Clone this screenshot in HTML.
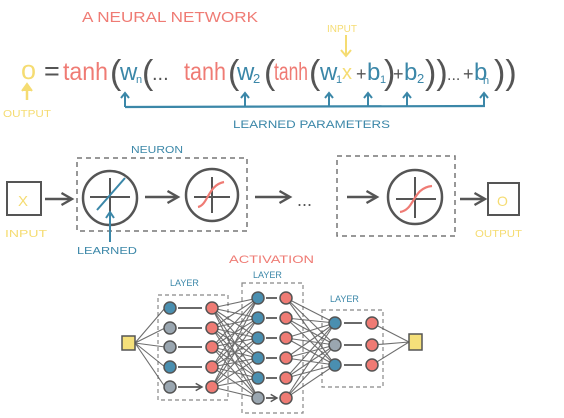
<!DOCTYPE html>
<html><head><meta charset="utf-8"><style>
html,body{margin:0;padding:0;background:#fff;width:564px;height:418px;overflow:hidden}
svg{display:block}
text{font-family:"Liberation Sans",sans-serif}
</style></head><body>
<svg width="564" height="418" viewBox="0 0 564 418" xmlns="http://www.w3.org/2000/svg">
<defs>
<marker id="ah" viewBox="0 0 10 10" refX="8" refY="5" markerWidth="6" markerHeight="6" orient="auto"><path d="M1,1 L8,5 L1,9" fill="none" stroke="#555" stroke-width="1.6"/></marker>
<marker id="ahs" viewBox="0 0 10 10" refX="8" refY="5" markerWidth="5" markerHeight="5" orient="auto"><path d="M1,1 L8,5 L1,9" fill="none" stroke="#555" stroke-width="1.6"/></marker>
</defs>
<!-- title -->
<text x="82" y="22" font-size="15" fill="#ef7b74" textLength="176" lengthAdjust="spacingAndGlyphs">A NEURAL NETWORK</text>
<!-- input label -->
<text x="327" y="32" font-size="10" fill="#f5dc72">INPUT</text>
<line x1="346" y1="35" x2="346" y2="55" stroke="#f5dc72" stroke-width="2"/>
<path d="M341,50 L346,56 L351,50" fill="none" stroke="#f5dc72" stroke-width="2"/>
<!-- equation -->
<g font-size="27">
<text x="21" y="79" fill="#f5dc72">o</text>
<text x="44" y="80" fill="#555">=</text>
<text x="63" y="80" fill="#ef7b74" font-size="25" textLength="45" lengthAdjust="spacingAndGlyphs">tanh</text>
<text x="110" y="84" fill="#555" font-size="34">(</text>
<text x="120" y="80" fill="#3b87a8" font-size="24">w</text><text x="136" y="83" fill="#3b87a8" font-size="11">n</text>
<text x="142" y="84" fill="#555" font-size="34">(</text>
<text x="152" y="80" fill="#555" font-size="20">...</text>
<text x="184" y="80" fill="#ef7b74" font-size="25" textLength="42" lengthAdjust="spacingAndGlyphs">tanh</text>
<text x="228" y="84" fill="#555" font-size="34">(</text>
<text x="237" y="80" fill="#3b87a8" font-size="24">w</text><text x="253" y="83" fill="#3b87a8" font-size="13">2</text>
<text x="264" y="84" fill="#555" font-size="34">(</text>
<text x="274" y="80" fill="#ef7b74" font-size="25" textLength="34" lengthAdjust="spacingAndGlyphs">tanh</text>
<text x="309" y="84" fill="#555" font-size="34">(</text>
<text x="320" y="80" fill="#3b87a8" font-size="24">w</text><text x="336" y="83" fill="#3b87a8" font-size="11">1</text>
<text x="342" y="79" fill="#f5dc72" font-size="20">x</text>
<text x="356" y="80" fill="#555" font-size="18">+</text>
<text x="367" y="80" fill="#3b87a8" font-size="24">b</text><text x="380" y="83" fill="#3b87a8" font-size="11">1</text>
<text x="384" y="84" fill="#555" font-size="34">)</text>
<text x="393" y="80" fill="#555" font-size="18">+</text>
<text x="404" y="80" fill="#3b87a8" font-size="24">b</text><text x="417" y="83" fill="#3b87a8" font-size="13">2</text>
<text x="425" y="84" fill="#555" font-size="34">))</text>
<text x="447" y="80" fill="#555" font-size="16">...</text>
<text x="463" y="80" fill="#555" font-size="18">+</text>
<text x="474" y="80" fill="#3b87a8" font-size="24">b</text><text x="483" y="84" fill="#3b87a8" font-size="11">n</text>
<text x="494" y="84" fill="#555" font-size="34">))</text>
</g>
<!-- output arrow -->
<line x1="27" y1="100" x2="27" y2="85" stroke="#f5dc72" stroke-width="2.5"/>
<path d="M22,91 L27,84 L32,91" fill="#f5dc72" stroke="#f5dc72" stroke-width="2"/>
<text x="3" y="117" font-size="10" fill="#f5dc72" textLength="48" lengthAdjust="spacingAndGlyphs">OUTPUT</text>
<!-- learned params -->
<path d="M125,107 L485,106" stroke="#3b87a8" stroke-width="2.2" fill="none"/>
<g stroke="#3b87a8" stroke-width="2" fill="none">
<path d="M125,107 V93 M121,98 L125,93 L129,98"/>
<path d="M245,106 V93 M241,98 L245,93 L249,98"/>
<path d="M329,106 V93 M325,98 L329,93 L333,98"/>
<path d="M368,106 V93 M364,98 L368,93 L372,98"/>
<path d="M407,106 V93 M403,98 L407,93 L411,98"/>
<path d="M484,106 V93 M480,98 L484,93 L488,98"/>
</g>
<text x="233" y="128" font-size="11" fill="#3b87a8" textLength="157" lengthAdjust="spacingAndGlyphs">LEARNED PARAMETERS</text>
<!-- row 2 -->
<text x="131" y="153" font-size="10" fill="#3b87a8" textLength="52" lengthAdjust="spacingAndGlyphs">NEURON</text>
<rect x="7" y="182" width="34" height="33" fill="none" stroke="#555" stroke-width="2"/>
<text x="18" y="206" font-size="15" fill="#f5dc72">X</text>
<text x="5" y="237" font-size="10" fill="#f5dc72" textLength="42" lengthAdjust="spacingAndGlyphs">INPUT</text>
<line x1="45" y1="199" x2="72" y2="199" stroke="#555" stroke-width="2.5" marker-end="url(#ah)"/>
<rect x="77" y="158" width="170" height="73" fill="none" stroke="#777" stroke-width="1.5" stroke-dasharray="5,4"/>
<circle cx="110" cy="198" r="27" fill="none" stroke="#555" stroke-width="2.5"/>
<path d="M110,178 V218 M90,197 H130" stroke="#555" stroke-width="2"/>
<path d="M97,210 L125,178" stroke="#3b87a8" stroke-width="2"/>
<path d="M110,242 V212 M106,218 L110,212 L114,218" stroke="#3b87a8" stroke-width="2" fill="none"/>
<text x="77" y="254" font-size="10" fill="#3b87a8" textLength="60" lengthAdjust="spacingAndGlyphs">LEARNED</text>
<line x1="145" y1="197" x2="178" y2="197" stroke="#555" stroke-width="2.5" marker-end="url(#ah)"/>
<circle cx="212" cy="195" r="26" fill="none" stroke="#555" stroke-width="2.5"/>
<path d="M212,177 V213 M194,197 H230" stroke="#555" stroke-width="2"/>
<path d="M198,207 C208,205 208,185 224,182" stroke="#ef7b74" stroke-width="2.2" fill="none"/>
<line x1="255" y1="197" x2="290" y2="197" stroke="#555" stroke-width="2.5" marker-end="url(#ah)"/>
<text x="297" y="206" font-size="18" fill="#555">...</text>
<rect x="337" y="156" width="118" height="80" fill="none" stroke="#777" stroke-width="1.5" stroke-dasharray="5,4"/>
<line x1="347" y1="197" x2="377" y2="197" stroke="#555" stroke-width="2.5" marker-end="url(#ah)"/>
<circle cx="415" cy="197" r="27" fill="none" stroke="#555" stroke-width="2.5"/>
<path d="M415,177 V218 M396,199 H436" stroke="#555" stroke-width="2"/>
<path d="M400,212 C415,210 412,188 432,186" stroke="#ef7b74" stroke-width="2.2" fill="none"/>
<line x1="460" y1="199" x2="485" y2="199" stroke="#555" stroke-width="2.5" marker-end="url(#ah)"/>
<rect x="488" y="183" width="31" height="32" fill="none" stroke="#555" stroke-width="2"/>
<text x="497" y="206" font-size="14" fill="#f5dc72">O</text>
<text x="475" y="237" font-size="10" fill="#f5dc72" textLength="47" lengthAdjust="spacingAndGlyphs">OUTPUT</text>
<!-- network -->
<text x="229" y="263" font-size="11" fill="#ef7b74" textLength="85" lengthAdjust="spacingAndGlyphs">ACTIVATION</text>
<text x="170" y="286" font-size="9" fill="#3b87a8">LAYER</text>
<text x="253" y="278" font-size="9" fill="#3b87a8">LAYER</text>
<text x="330" y="302" font-size="9" fill="#3b87a8">LAYER</text>
<g fill="none" stroke="#888" stroke-width="1.2" stroke-dasharray="4,3">
<rect x="158" y="295" width="70" height="105"/>
<rect x="242" y="283" width="61" height="130"/>
<rect x="322" y="310" width="61" height="77"/>
</g>
<rect x="122" y="336" width="13" height="14" fill="#f5e07a" stroke="#555" stroke-width="1.5"/>
<rect x="409" y="334" width="13" height="16" fill="#f5e07a" stroke="#555" stroke-width="1.5"/>
<g stroke="#555" stroke-width="1.1" opacity="0.85">
<path d="M135,343 L165,308 M135,343 L165,328 M135,343 L165,347 M135,343 L165,367 M135,343 L165,387"/>
<path d="M212,308 L258,298 M212,308 L258,318 M212,308 L258,338 M212,308 L258,358 M212,308 L258,378 M212,308 L258,398
M212,328 L258,298 M212,328 L258,318 M212,328 L258,338 M212,328 L258,358 M212,328 L258,378 M212,328 L258,398
M212,347 L258,298 M212,347 L258,318 M212,347 L258,338 M212,347 L258,358 M212,347 L258,378 M212,347 L258,398
M212,367 L258,298 M212,367 L258,318 M212,367 L258,338 M212,367 L258,358 M212,367 L258,378 M212,367 L258,398
M212,387 L258,298 M212,387 L258,318 M212,387 L258,338 M212,387 L258,358 M212,387 L258,378 M212,387 L258,398"/>
<path d="M286,298 L335,323 M286,298 L335,345 M286,298 L335,365
M286,318 L335,323 M286,318 L335,345 M286,318 L335,365
M286,338 L335,323 M286,338 L335,345 M286,338 L335,365
M286,358 L335,323 M286,358 L335,345 M286,358 L335,365
M286,378 L335,323 M286,378 L335,345 M286,378 L335,365
M286,398 L335,323 M286,398 L335,345 M286,398 L335,365"/>
<path d="M372,323 L409,342 M372,345 L409,342 M372,365 L409,342"/>
</g>
<g stroke="#555" stroke-width="1.8" fill="none">
<path d="M178,308 L202,308 M178,328 L202,328 M178,347 L202,347 M178,367 L202,367 M178,387 L202,387" marker-end="url(#ahs)"/>
<path d="M266,298 L277,298 M266,318 L277,318 M266,338 L277,338 M266,358 L277,358 M266,378 L277,378 M266,398 L277,398" marker-end="url(#ahs)"/>
<path d="M344,323 L362,323 M344,345 L362,345 M344,365 L362,365"/>
</g>
<g stroke="#555" stroke-width="1.5">
<circle cx="170" cy="308" r="6" fill="#4a8fb0"/><circle cx="170" cy="328" r="6" fill="#9aa6b0"/><circle cx="170" cy="347" r="6" fill="#9aa6b0"/><circle cx="170" cy="367" r="6" fill="#4a8fb0"/><circle cx="170" cy="387" r="6" fill="#9aa6b0"/>
<circle cx="212" cy="308" r="6" fill="#ef7b74"/><circle cx="212" cy="328" r="6" fill="#ef7b74"/><circle cx="212" cy="347" r="6" fill="#ef7b74"/><circle cx="212" cy="367" r="6" fill="#ef7b74"/><circle cx="212" cy="387" r="6" fill="#ef7b74"/>
<circle cx="258" cy="298" r="6" fill="#4a8fb0"/><circle cx="258" cy="318" r="6" fill="#4a8fb0"/><circle cx="258" cy="338" r="6" fill="#4a8fb0"/><circle cx="258" cy="358" r="6" fill="#4a8fb0"/><circle cx="258" cy="378" r="6" fill="#4a8fb0"/><circle cx="258" cy="398" r="6" fill="#9aa6b0"/>
<circle cx="286" cy="298" r="6" fill="#ef7b74"/><circle cx="286" cy="318" r="6" fill="#ef7b74"/><circle cx="286" cy="338" r="6" fill="#ef7b74"/><circle cx="286" cy="358" r="6" fill="#ef7b74"/><circle cx="286" cy="378" r="6" fill="#ef7b74"/><circle cx="286" cy="398" r="6" fill="#ef7b74"/>
<circle cx="335" cy="323" r="6" fill="#4a8fb0"/><circle cx="335" cy="345" r="6" fill="#9aa6b0"/><circle cx="335" cy="365" r="6" fill="#4a8fb0"/>
<circle cx="372" cy="323" r="6" fill="#ef7b74"/><circle cx="372" cy="345" r="6" fill="#ef7b74"/><circle cx="372" cy="365" r="6" fill="#ef7b74"/>
</g>
</svg>
</body></html>
